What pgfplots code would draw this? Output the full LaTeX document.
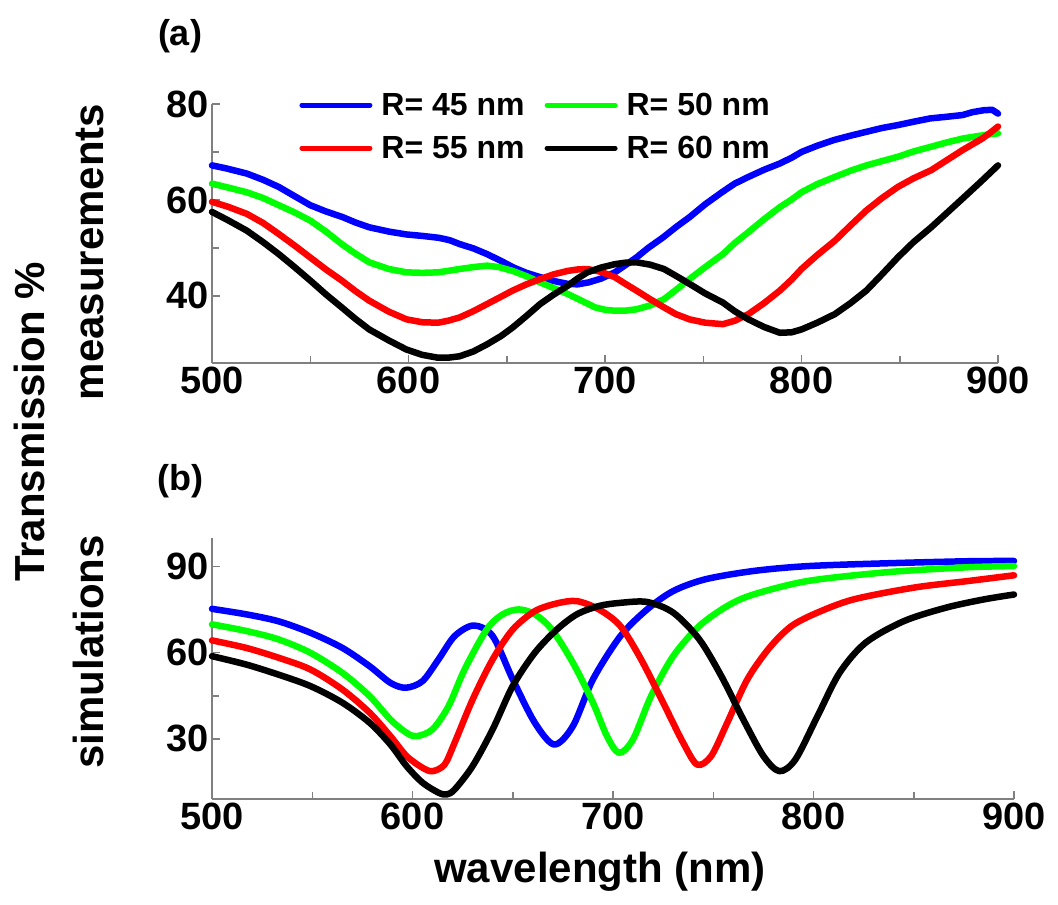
\documentclass[border=0pt]{standalone}
\usepackage{pgfplots}
\pgfplotsset{compat=1.18}
\usepackage{fontspec}
\setmainfont{Liberation Sans}
\definecolor{mblue}{RGB}{0,0,255}
\definecolor{mgreen}{RGB}{0,255,0}
\definecolor{mred}{RGB}{255,0,0}
\definecolor{axgray}{RGB}{128,128,128}
\pgfplotsset{
  panel/.style={
    scale only axis,
    axis lines=left,
    axis line style={-, axgray, line width=1.5pt},
    tick style={axgray, line width=1.5pt},
    major tick length=8pt, minor tick length=7pt,
    tick align=inside,
    xmin=500, xmax=900,
    xtick={500,600,700,800,900},
    minor x tick num=1,
    minor y tick num=1,
    /pgf/number format/assume math mode=true,
    tick label style={font=\fontsize{38}{38}\selectfont\bfseries, black},
    every axis plot/.append style={line width=6.5pt, line join=round, line cap=round},
    clip=false,
  }
}
\begin{document}
\begin{tikzpicture}
\useasboundingbox (0pt,0pt) rectangle (1058pt,-905pt);
% ---------------- (a) measurements
\begin{axis}[panel,
  at={(212pt,-363pt)}, anchor=south west,
  width=786pt, height=259pt,
  ymin=26, ymax=80, ytick={40,60,80},
  legend columns=2,
  legend style={draw=none, fill=none, inner sep=0pt,
    at={(0.111,1.05)}, anchor=north west,
    font=\fontsize{32}{32}\selectfont\bfseries,
    /tikz/every odd column/.append style={column sep=7pt},
    /tikz/every even column/.append style={column sep=18pt},
    row sep=15pt},
  legend cell align=left,
  legend image code/.code={\draw[#1, line width=5pt, line cap=round] (0pt,0pt) -- (68pt,0pt);},
]
\addplot[mblue] coordinates {
(500,67.2)(507,66.6)(517.7,65.5)(526,64.2)(534,62.7)(542,60.8)(550,58.9)(558,57.6)(566.6,56.4)(573,55.3)(580,54.3)(590,53.4)(599,52.8)(607,52.5)(615.5,52.1)(621,51.6)(626,50.8)(633,49.9)(640,48.7)(647,47.3)(653.5,45.9)(660,44.8)(667,43.9)(674,43.1)(681,42.5)(686,42.4)(691.6,42.8)(698,43.6)(705,44.9)(710,46.3)(716,48)(722,50)(729.6,52.2)(736,54.3)(743,56.4)(751,59.1)(759.5,61.6)(766,63.4)(773,64.8)(781,66.3)(789,67.6)(795,68.8)(800,70)(808,71.3)(816.6,72.5)(825,73.4)(833,74.2)(841,75)(849,75.6)(857,76.3)(865.5,77)(873,77.3)(882,77.7)(887,78.3)(892.7,78.7)(897,78.8)(900,78)
};
\addlegendentry{R= 45 nm}
\addplot[mgreen] coordinates {
(500,63.4)(508,62.6)(517.7,61.6)(526,60.4)(534,58.9)(542,57.4)(550,55.7)(558,53.4)(566,50.8)(573,48.8)(580,47)(590,45.6)(599,44.9)(607,44.8)(615,44.9)(620,45.2)(626,45.6)(633,46)(640,46.3)(646,46)(653,45.2)(660,44.1)(667,42.8)(674,41.6)(681,40.4)(688,39)(695,37.6)(700,37.1)(705,36.9)(710,36.9)(716,37.2)(723,38)(730,39.3)(736,41.2)(743,43.5)(751,46)(760,48.7)(766,51)(773,53.3)(781,56)(789,58.5)(795,60.1)(800,61.6)(808,63.3)(817,64.8)(825,66.1)(833,67.2)(841,68.1)(849,69)(857,70.1)(866,71.1)(874,72)(882,72.8)(891,73.4)(900,73.9)
};
\addlegendentry{R= 50 nm}
\addplot[mred] coordinates {
(500,59.6)(508,58.6)(517.7,57.1)(526,55.2)(534,52.9)(542,50.5)(550,48)(558,45.5)(566,43.2)(573,41)(580,39)(590,36.7)(599,35.1)(607,34.5)(615,34.4)(620,34.8)(626,35.5)(633,36.8)(640,38.3)(647,39.8)(653,41.1)(660,42.4)(667,43.5)(674,44.5)(681,45.2)(686,45.5)(691,45.6)(698,45)(705,43.9)(710,42.6)(716,41.1)(723,39.3)(730,37.6)(736,36.2)(743,35.1)(751,34.4)(760,34.1)(766,34.8)(773,36.2)(781,38.5)(789,41.1)(795,43.4)(800,45.6)(808,48.5)(817,51.5)(825,54.7)(833,57.8)(841,60.4)(849,62.7)(857,64.5)(866,66.2)(874,68.3)(882,70.4)(887,71.6)(892,72.8)(896,74)(900,75.3)
};
\addlegendentry{R= 55 nm}
\addplot[black] coordinates {
(500,57.5)(508,55.8)(517.7,53.6)(526,51.2)(534,48.7)(542,46)(550,43.2)(558,40.3)(566,37.6)(573,35.2)(580,33)(590,30.7)(599,28.8)(607,27.7)(615,27.1)(620,27.1)(626,27.4)(633,28.4)(640,29.9)(647,31.6)(653,33.4)(660,35.8)(667,38.3)(674,40.3)(681,42.1)(686,43.6)(691,44.9)(698,45.9)(705,46.6)(710,46.9)(716,47)(723,46.5)(730,45.6)(736,44.2)(743,42.5)(751,40.5)(760,38.6)(766,36.8)(773,35.1)(781,33.5)(789,32.3)(795,32.4)(800,33)(808,34.4)(817,36.2)(825,38.5)(833,41.1)(841,44.5)(849,48)(857,51.2)(866,54.3)(874,57.3)(882,60.3)(891,63.7)(900,67.2)
};
\addlegendentry{R= 60 nm}
\end{axis}
% ---------------- (b) simulations
\begin{axis}[panel,
  at={(212pt,-799pt)}, anchor=south west,
  width=802pt, height=261pt,
  ymin=9, ymax=100, ytick={30,60,90},
]
\addplot[mblue, smooth] coordinates {
(500,75.3)(517,73.4)(533,71)(549,67)(565,61.7)(578.6,55.3)(589,49.5)(596.7,47.8)(605,50.1)(613,57.7)(621,65.8)(630.5,69.5)(640,65.8)(650,50.7)(661,35.6)(670.7,28)(680,34.4)(690,50.7)(703.7,65.8)(717,75.1)(730,81.5)(746,85.6)(770,88.5)(797,90.2)(837,91.2)(876.8,91.9)(900,92)
};
\addplot[mgreen, smooth] coordinates {
(500,69.9)(517,67.6)(533,64.7)(549,60)(565,53)(578.6,44.9)(589,36.7)(597,32.1)(602,30.9)(610,33.3)(618,41.4)(626,54.2)(637,68.1)(645,73.4)(653,75.1)(661,73.4)(669.5,68.1)(680,56.5)(690,42.6)(697,30.9)(703,25.1)(710,29.8)(719,44.9)(730,58.8)(743,69.3)(757,76.3)(770,80.3)(797,85)(837,88.1)(877,89.8)(900,90.2)
};
\addplot[mred, smooth] coordinates {
(500,64.3)(517,61.7)(533,58.3)(549,54.2)(565,47.2)(578.6,39.1)(589,30.9)(597,24)(605,19.9)(610,18.7)(616,21)(621,28.6)(630,43.7)(640,57.7)(650,68.1)(661,74.5)(672,77.2)(682,78)(693,75.1)(703.7,69.3)(714,57.7)(725,42.6)(735,28.6)(742,21)(749,24)(757,35.6)(767,50.7)(778,61.7)(789,69.3)(802,74)(820,78.6)(850,82.7)(877,85)(900,87)
};
\addplot[black, smooth] coordinates {
(500,58.8)(517,55.9)(533,52.4)(549,48.4)(565,42.6)(578.6,35.6)(589,28)(597,20.5)(605,14.7)(613,11.2)(617,10.6)(621,12.3)(630,20.5)(640,33.3)(650,48.4)(661,60)(672,68.1)(682,73.4)(693,76.3)(703.7,77.4)(717,77.7)(730,74)(743,64.7)(754,51.9)(765,36.7)(775,24)(783,18.7)(791,22.8)(802,37.9)(813,53)(826,63.5)(845,71)(866,75.7)(885,78.6)(900,80.3)
};
\end{axis}
% ---------------- labels
\node[font=\fontsize{36}{36}\selectfont\bfseries] at (180pt,-36pt) {(a)};
\node[font=\fontsize{36}{36}\selectfont\bfseries] at (180pt,-481pt) {(b)};
\node[font=\fontsize{42}{42}\selectfont\bfseries, rotate=90, anchor=base] at (44pt,-422pt) {Transmission \%};
\node[font=\fontsize{42}{42}\selectfont\bfseries, rotate=90, anchor=base] at (103pt,-252pt) {measurements};
\node[font=\fontsize{42}{42}\selectfont\bfseries, rotate=90, anchor=base] at (103pt,-652pt) {simulations};
\node[font=\fontsize{42}{42}\selectfont\bfseries] at (600pt,-872pt) {wavelength (nm)};
\end{tikzpicture}
\end{document}
